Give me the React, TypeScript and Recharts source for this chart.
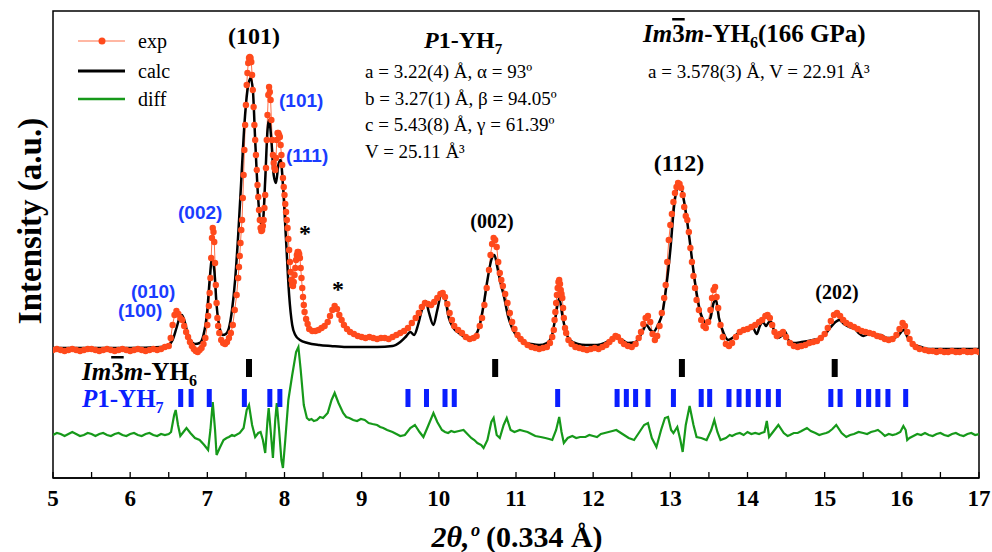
import React from "react";
import { ComposedChart, Line, Scatter, XAxis, YAxis, ReferenceArea } from "recharts";

// 2θ (deg) vs intensity (a.u.)
const expLeft: [number, number][] = [
  [5.0, 128], [5.05, 129], [5.1, 128], [5.15, 127], [5.2, 128], [5.25, 129], [5.3, 128], [5.35, 127],
  [5.4, 128], [5.45, 129], [5.5, 129], [5.55, 128], [5.6, 127], [5.65, 128], [5.7, 129], [5.75, 128],
  [5.8, 127], [5.85, 128], [5.9, 129], [5.95, 128], [6.0, 127], [6.05, 128], [6.1, 129], [6.15, 128],
  [6.2, 127], [6.25, 128], [6.3, 129], [6.35, 128], [6.4, 129], [6.45, 131],
];

const expLowAngle: [number, number][] = [
  [6.5, 132], [6.525, 140], [6.55, 153], [6.575, 163], [6.6, 167], [6.625, 164], [6.65, 160], [6.675, 158],
  [6.7, 152], [6.725, 146], [6.75, 141], [6.775, 136], [6.8, 132], [6.825, 129], [6.85, 127], [6.875, 126],
  [6.9, 128], [6.925, 130], [6.95, 134], [6.975, 140], [7.0, 153], [7.01, 162], [7.02, 172], [7.03, 185],
  [7.04, 200], [7.05, 220], [7.06, 240], [7.07, 250], [7.08, 246], [7.09, 236], [7.1, 215], [7.11, 193],
  [7.12, 175], [7.13, 160], [7.14, 152], [7.155, 145], [7.18, 138], [7.205, 135], [7.23, 134], [7.255, 136],
  [7.28, 140], [7.305, 145], [7.33, 153], [7.355, 168], [7.38, 183], [7.4, 200], [7.41, 211], [7.42, 222],
];

const expMain: [number, number][] = [
  [7.43, 235], [7.44, 248], [7.45, 258], [7.46, 280], [7.47, 303], [7.48, 328], [7.49, 353], [7.5, 373],
  [7.51, 393], [7.52, 405], [7.53, 415], [7.54, 420], [7.55, 421], [7.56, 420], [7.57, 416], [7.58, 403],
  [7.59, 388], [7.6, 371], [7.61, 353], [7.62, 338], [7.63, 323], [7.64, 308], [7.65, 293], [7.66, 281],
  [7.67, 268], [7.68, 258], [7.69, 250], [7.7, 247], [7.71, 248], [7.72, 252], [7.73, 258], [7.74, 270],
  [7.75, 283], [7.76, 310], [7.77, 338], [7.78, 363], [7.79, 383], [7.8, 391], [7.81, 386], [7.82, 378],
  [7.83, 358], [7.84, 338], [7.85, 323], [7.86, 315], [7.87, 310], [7.88, 308], [7.89, 320], [7.9, 338],
  [7.91, 345], [7.92, 345], [7.93, 343], [7.94, 341], [7.95, 333], [7.96, 323], [7.97, 313], [7.98, 300],
  [7.99, 291], [8.0, 283], [8.01, 274], [8.02, 266], [8.03, 258], [8.04, 250], [8.05, 239], [8.06, 228],
  [8.07, 216], [8.08, 206], [8.09, 198], [8.1, 193], [8.11, 192], [8.12, 196], [8.13, 203], [8.14, 210],
  [8.15, 218], [8.16, 223], [8.17, 226], [8.18, 226], [8.19, 224], [8.2, 220], [8.21, 210], [8.22, 200],
  [8.23, 190], [8.24, 181], [8.25, 173], [8.26, 166], [8.28, 159], [8.3, 154],
];

const expMid: [number, number][] = [
  [8.32, 149], [8.36, 147], [8.4, 147], [8.44, 148], [8.48, 150], [8.52, 152], [8.56, 156], [8.59, 162],
  [8.62, 168], [8.65, 172], [8.68, 169], [8.71, 163], [8.74, 158], [8.77, 153], [8.81, 149], [8.85, 146],
  [8.9, 144], [8.95, 142], [9.0, 141], [9.05, 140], [9.1, 141], [9.15, 140], [9.2, 139], [9.25, 140],
  [9.3, 140], [9.35, 139], [9.4, 141], [9.45, 143], [9.5, 145], [9.55, 147], [9.6, 150], [9.65, 155],
  [9.7, 160], [9.74, 165], [9.78, 171], [9.82, 175], [9.86, 174], [9.9, 173], [9.94, 176], [9.98, 180],
  [10.02, 184], [10.05, 185], [10.08, 181], [10.11, 174], [10.14, 165], [10.17, 158], [10.2, 152], [10.25, 148],
  [10.3, 145], [10.35, 141], [10.4, 139], [10.45, 140],
];

const expHigh: [number, number][] = [
  [10.49, 142], [10.53, 152], [10.56, 160], [10.59, 173], [10.62, 190], [10.65, 208], [10.67, 223], [10.69, 234],
  [10.71, 240], [10.73, 238], [10.75, 231], [10.77, 216], [10.79, 205], [10.81, 198], [10.83, 192], [10.86, 184],
  [10.89, 175], [10.92, 165], [10.95, 156], [10.98, 149], [11.02, 143], [11.06, 139], [11.1, 136], [11.15, 133],
  [11.2, 131], [11.25, 130], [11.3, 129], [11.35, 130], [11.4, 131], [11.44, 135], [11.47, 141], [11.49, 148],
  [11.5, 158], [11.51, 166], [11.52, 175], [11.53, 183], [11.54, 190], [11.55, 196], [11.56, 198], [11.57, 194],
  [11.58, 188], [11.59, 184], [11.6, 180], [11.61, 170], [11.62, 160], [11.635, 150], [11.65, 145], [11.68, 138],
  [11.72, 134], [11.77, 131], [11.82, 130], [11.87, 129], [11.92, 128], [11.97, 129], [12.02, 130], [12.07, 129],
  [12.12, 131], [12.17, 133], [12.21, 136], [12.25, 139], [12.29, 142], [12.32, 141], [12.36, 137], [12.4, 134],
  [12.45, 132], [12.5, 131],
];

const expYh6: [number, number][] = [
  [12.55, 134], [12.59, 140], [12.62, 146], [12.65, 154], [12.68, 160], [12.71, 162], [12.74, 156], [12.77, 144],
  [12.8, 138], [12.83, 142], [12.86, 152], [12.89, 165], [12.92, 180], [12.94, 193], [12.96, 216], [12.98, 238],
  [13.0, 253], [13.02, 264], [13.04, 276], [13.06, 285], [13.08, 291], [13.1, 295], [13.12, 294], [13.14, 290],
  [13.16, 283], [13.18, 271], [13.2, 262], [13.22, 258], [13.24, 246], [13.26, 230], [13.28, 216], [13.3, 202],
  [13.32, 190], [13.34, 178], [13.37, 168], [13.4, 158], [13.43, 152], [13.46, 150], [13.49, 156], [13.52, 168],
  [13.54, 180], [13.56, 188], [13.58, 191], [13.6, 181], [13.62, 170], [13.65, 153], [13.68, 141], [13.72, 134],
  [13.76, 132], [13.8, 135], [13.85, 141], [13.9, 146], [13.95, 148], [14.0, 149],
];

const expRight: [number, number][] = [
  [14.05, 151], [14.1, 153], [14.15, 156], [14.19, 158], [14.23, 162], [14.26, 163], [14.29, 160], [14.32, 153],
  [14.35, 146], [14.38, 142], [14.42, 144], [14.46, 146], [14.5, 141], [14.55, 135], [14.6, 132], [14.65, 131],
  [14.7, 132], [14.75, 133], [14.8, 135], [14.85, 136], [14.9, 137], [14.95, 140], [15.0, 144], [15.04, 150],
  [15.08, 157], [15.12, 163], [15.16, 165], [15.2, 162], [15.24, 158], [15.28, 155], [15.33, 153], [15.38, 151],
  [15.43, 149], [15.48, 147], [15.53, 146], [15.58, 145], [15.63, 144], [15.68, 142], [15.73, 141], [15.78, 139],
  [15.83, 138], [15.88, 139], [15.93, 143], [15.97, 149], [16.01, 155], [16.04, 152], [16.07, 146], [16.1, 139],
  [16.14, 134], [16.18, 131], [16.23, 129], [16.3, 128], [16.35, 127], [16.4, 127], [16.45, 126], [16.5, 127],
  [16.55, 126], [16.6, 126], [16.65, 127], [16.7, 126], [16.75, 126], [16.8, 127], [16.85, 126], [16.9, 126],
  [16.95, 127], [17.0, 126],
];

const calcPts: [number, number][] = [
  [5.0, 130], [6.0, 130], [6.4, 131], [6.5, 133], [6.55, 138], [6.6, 150], [6.64, 160], [6.67, 163],
  [6.7, 158], [6.74, 146], [6.78, 138], [6.84, 134], [6.9, 135], [6.95, 143], [7.0, 168], [7.03, 198],
  [7.06, 219], [7.09, 208], [7.12, 173], [7.16, 150], [7.2, 143], [7.24, 144], [7.28, 150], [7.32, 168],
  [7.36, 198], [7.4, 243], [7.44, 298], [7.48, 353], [7.52, 388], [7.56, 400], [7.59, 388], [7.62, 338],
  [7.66, 278], [7.7, 253], [7.72, 256], [7.75, 298], [7.78, 348], [7.8, 358], [7.83, 338], [7.86, 303],
  [7.89, 295], [7.92, 313], [7.95, 318], [7.98, 293], [8.02, 238], [8.06, 183], [8.1, 153], [8.14, 143],
  [8.2, 138], [8.3, 135], [8.45, 133], [8.6, 132], [8.8, 131], [9.0, 131], [9.2, 131], [9.4, 132],
  [9.5, 136], [9.58, 142], [9.63, 146], [9.68, 143], [9.73, 153], [9.78, 168], [9.83, 177], [9.87, 166],
  [9.93, 153], [9.98, 168], [10.04, 186], [10.08, 180], [10.13, 160], [10.19, 150], [10.26, 145], [10.33, 141],
  [10.4, 138], [10.47, 142], [10.53, 153], [10.58, 173], [10.63, 198], [10.68, 218], [10.72, 223], [10.76, 210],
  [10.8, 195], [10.84, 183], [10.9, 161], [10.95, 150], [11.02, 141], [11.1, 136], [11.2, 134], [11.3, 133],
  [11.4, 135], [11.46, 141], [11.51, 160], [11.56, 180], [11.6, 163], [11.65, 145], [11.7, 138], [11.8, 134],
  [11.9, 133], [12.05, 133], [12.15, 135], [12.22, 138], [12.3, 141], [12.36, 139], [12.45, 135], [12.55, 136],
  [12.63, 145], [12.69, 153], [12.74, 148], [12.78, 146], [12.84, 153], [12.9, 166], [12.95, 193], [13.0, 228],
  [13.05, 273], [13.09, 290], [13.13, 293], [13.17, 280], [13.21, 261], [13.25, 238], [13.29, 213], [13.34, 185],
  [13.4, 163], [13.47, 155], [13.52, 160], [13.56, 175], [13.59, 178], [13.63, 160], [13.69, 145], [13.75, 138],
  [13.82, 141], [13.9, 146], [14.0, 148], [14.07, 150], [14.12, 144], [14.16, 152], [14.2, 156], [14.24, 152],
  [14.28, 156], [14.31, 156], [14.35, 145], [14.39, 140], [14.44, 142], [14.49, 146], [14.53, 138], [14.6, 135],
  [14.7, 136], [14.85, 138], [14.95, 140], [15.02, 145], [15.08, 151], [15.14, 156], [15.19, 158], [15.25, 154],
  [15.32, 151], [15.38, 150], [15.44, 145], [15.5, 142], [15.58, 144], [15.66, 143], [15.73, 143], [15.8, 140],
  [15.9, 140], [15.96, 143], [16.02, 148], [16.08, 140], [16.15, 134], [16.25, 131], [16.35, 129], [16.6, 129],
  [17.0, 129],
];

const diffPts: [number, number][] = [
  [5.0, 43], [5.05, 45], [5.1, 44], [5.15, 42], [5.2, 44], [5.25, 46], [5.3, 44], [5.35, 42],
  [5.4, 43], [5.45, 45], [5.5, 44], [5.55, 42], [5.6, 44], [5.65, 45], [5.7, 43], [5.75, 42],
  [5.8, 44], [5.85, 45], [5.9, 43], [5.95, 42], [6.0, 44], [6.05, 45], [6.1, 43], [6.15, 42],
  [6.2, 44], [6.25, 45], [6.3, 43], [6.35, 42], [6.4, 44], [6.45, 43], [6.5, 44],
  [6.53, 46], [6.57, 63], [6.59, 68], [6.62, 53], [6.65, 42], [6.69, 46], [6.73, 50], [6.78, 45],
  [6.84, 40], [6.9, 38], [6.96, 33], [7.01, 28], [7.04, 48], [7.07, 76], [7.1, 48], [7.12, 23],
  [7.16, 30], [7.21, 38], [7.25, 40], [7.28, 41], [7.32, 43], [7.35, 42], [7.42, 45], [7.47, 50], [7.51, 68], [7.54, 73],
  [7.58, 53], [7.62, 41], [7.66, 45], [7.69, 46], [7.72, 38], [7.75, 25], [7.78, 58], [7.795, 70],
  [7.82, 48], [7.85, 20], [7.88, 58], [7.9, 75], [7.93, 48], [7.96, 18], [7.98, 10], [8.01, 38],
  [8.05, 78], [8.1, 103], [8.15, 126], [8.18, 131], [8.21, 108], [8.25, 73], [8.29, 60], [8.32, 58], [8.35, 59],
  [8.38, 57], [8.42, 58], [8.46, 61], [8.5, 60], [8.56, 65], [8.61, 78], [8.65, 85], [8.7, 75], [8.76, 65],
  [8.8, 61], [8.84, 60], [8.89, 58], [8.94, 57], [8.99, 59], [9.04, 58], [9.09, 55], [9.14, 54], [9.2, 53],
  [9.24, 51], [9.28, 50], [9.33, 48], [9.4, 46], [9.45, 44], [9.5, 42], [9.56, 43], [9.63, 50],
  [9.69, 53], [9.75, 46], [9.8, 41], [9.85, 50], [9.93, 65], [9.98, 56], [10.04, 48], [10.08, 46], [10.12, 45],
  [10.16, 47], [10.2, 46], [10.26, 47], [10.32, 48], [10.37, 44], [10.42, 40], [10.46, 38], [10.5, 35], [10.55, 33],
  [10.58, 30], [10.63, 38], [10.68, 56], [10.71, 60],
  [10.75, 43], [10.79, 40], [10.84, 53], [10.88, 60], [10.93, 48], [10.98, 46], [11.05, 48], [11.1, 47], [11.15, 46],
  [11.2, 44], [11.25, 42], [11.32, 41], [11.38, 40], [11.43, 39], [11.47, 38], [11.52, 48], [11.56, 61], [11.59, 46], [11.62, 35],
  [11.67, 40], [11.73, 42], [11.78, 40], [11.83, 41], [11.9, 41], [11.95, 43], [12.0, 42], [12.05, 41],
  [12.1, 44], [12.15, 45], [12.2, 46], [12.25, 47], [12.3, 48], [12.34, 46], [12.38, 44],
  [12.46, 40], [12.53, 38], [12.6, 46], [12.66, 53], [12.71, 55], [12.76, 40], [12.82, 31], [12.88, 48],
  [12.93, 60], [12.97, 61], [13.01, 48], [13.04, 45], [13.09, 51], [13.13, 38], [13.16, 26], [13.2, 53],
  [13.25, 72], [13.3, 53], [13.34, 41], [13.4, 40], [13.47, 38], [13.53, 48], [13.57, 58], [13.61, 46],
  [13.65, 38], [13.72, 40], [13.77, 43], [13.8, 42], [13.85, 44], [13.9, 45], [13.95, 43], [14.0, 46],
  [14.05, 44], [14.1, 45], [14.15, 44], [14.18, 45], [14.22, 46],
  [14.25, 57], [14.28, 41], [14.33, 46], [14.4, 53], [14.47, 45], [14.52, 42], [14.55, 43], [14.6, 45],
  [14.65, 45], [14.7, 47], [14.77, 50], [14.82, 47], [14.88, 45], [14.93, 43], [14.97, 44], [15.02, 45],
  [15.05, 46], [15.1, 49], [15.15, 53], [15.22, 45], [15.28, 41], [15.33, 43], [15.38, 44], [15.44, 46],
  [15.5, 45], [15.55, 44], [15.6, 46], [15.65, 47], [15.69, 48], [15.74, 45], [15.78, 42], [15.83, 44],
  [15.88, 43], [15.93, 44], [15.98, 46], [16.02, 52], [16.05, 48], [16.07, 38], [16.1, 40],
  [16.15, 42], [16.2, 44], [16.25, 43], [16.3, 45], [16.35, 43], [16.4, 42], [16.45, 44], [16.5, 45],
  [16.55, 43], [16.6, 42], [16.65, 44], [16.7, 45], [16.75, 43], [16.8, 42], [16.85, 44], [16.9, 45],
  [16.95, 43], [17.0, 44],
];

// Bragg reflection positions (2θ)
const im3mPeaks = [7.54, 10.73, 13.15, 15.13];
const p1Peaks = [
  6.655, 6.79, 7.025, 7.48, 7.81, 7.94, 9.6, 9.84, 10.08, 10.2, 11.54, 12.31, 12.43, 12.55, 12.71, 13.04,
  13.4, 13.51, 13.76, 13.89, 14.01, 14.14, 14.27, 14.4, 15.08, 15.2, 15.44, 15.57, 15.69, 15.82, 16.05,
];

const xTicks = [5, 5.5, 6, 6.5, 7, 7.5, 8, 8.5, 9, 9.5, 10, 10.5, 11, 11.5, 12, 12.5, 13, 13.5, 14, 14.5, 15, 15.5, 16, 16.5, 17];

const IM3M_ROW = 110;
const P1_ROW = 80;

const toRows = (pts: [number, number][]) => pts.map(([t, v]) => ({ t, v }));
const expData = toRows([...expLeft, ...expLowAngle, ...expMain, ...expMid, ...expHigh, ...expYh6, ...expRight]);
const calcData = toRows(calcPts);
const diffData = toRows(diffPts);
const im3mData = im3mPeaks.map((t) => ({ t, v: IM3M_ROW }));
const p1Data = p1Peaks.map((t) => ({ t, v: P1_ROW }));

const SERIF = "'Liberation Serif', 'Times New Roman', serif";
const SANS = "'Liberation Sans', Arial, sans-serif";
const EXP_DOT = "#ff4a1c";
const EXP_LINE = "#ff7048";
const GREEN = "#16991a";
const BLUE = "#0a1eff";

const XTick = (props: any) => {
  const { x, y, payload } = props;
  const v = payload.value;
  return (
    <g>
      <line x1={x} x2={x} y1={y} y2={y - 6} stroke="#000" strokeWidth={1.3} />
      {Number.isInteger(v) && (
        <text x={x} y={y + 28} textAnchor="middle" fontFamily={SERIF} fontWeight="bold" fontSize={23} fill="#000">
          {v}
        </text>
      )}
    </g>
  );
};

const blackTick = (props: any) => (
  <rect x={props.cx - 3} y={props.cy - 9} width={6} height={18} fill="#000" />
);
const blueTick = (props: any) => (
  <rect x={props.cx - 2.5} y={props.cy - 9} width={5} height={18} fill={BLUE} />
);

export default function App() {
  return (
    <div style={{ position: "absolute", left: 0, top: 0, width: 992, height: 552, background: "#fff" }}>
      <ComposedChart width={992} height={552} margin={{ top: 11, right: 13, left: 53, bottom: 0 }}>
        <XAxis
          dataKey="t"
          type="number"
          domain={[5, 17]}
          ticks={xTicks}
          interval={0}
          height={74}
          tickSize={0}
          tickMargin={0}
          tickLine={false}
          tick={<XTick />}
          axisLine={{ stroke: "#000", strokeWidth: 1.5 }}
          allowDataOverflow
        />
        <YAxis type="number" domain={[0, 467]} hide allowDataOverflow />
        <ReferenceArea x1={5} x2={17} y1={0} y2={467} fill="none" stroke="#000" strokeWidth={1.5} fillOpacity={0} />
        <Line
          data={diffData}
          dataKey="v"
          type="linear"
          stroke={GREEN}
          strokeWidth={2.2}
          dot={false}
          isAnimationActive={false}
        />
        <Line
          data={expData}
          dataKey="v"
          type="linear"
          stroke={EXP_LINE}
          strokeWidth={1}
          dot={{ r: 3.2, fill: EXP_DOT, stroke: "none" }}
          isAnimationActive={false}
        />
        <Line
          data={calcData}
          dataKey="v"
          type="monotone"
          stroke="#000"
          strokeWidth={2.5}
          dot={false}
          isAnimationActive={false}
        />
        <Scatter data={im3mData} dataKey="v" shape={blackTick} isAnimationActive={false} />
        <Scatter data={p1Data} dataKey="v" shape={blueTick} isAnimationActive={false} />
      </ComposedChart>

      <svg width={992} height={552} style={{ position: "absolute", left: 0, top: 0, pointerEvents: "none" }}>
        {/* legend */}
        <line x1={78} x2={125} y1={41} y2={41} stroke={EXP_LINE} strokeWidth={1.2} />
        <circle cx={102} cy={41} r={3.5} fill={EXP_DOT} />
        <text x={138} y={48} fontFamily={SERIF} fontSize={20}>exp</text>
        <line x1={78} x2={125} y1={71} y2={71} stroke="#000" strokeWidth={3} />
        <text x={138} y={78} fontFamily={SERIF} fontSize={20}>calc</text>
        <line x1={78} x2={125} y1={99} y2={99} stroke={GREEN} strokeWidth={2.5} />
        <text x={138} y={106} fontFamily={SERIF} fontSize={20}>diff</text>

        {/* axis titles */}
        <text transform="rotate(-90)" x={-221} y={41} textAnchor="middle" fontFamily={SERIF} fontWeight="bold" fontSize={33}>
          Intensity (a.u.)
        </text>
        <text x={517} y={547} textAnchor="middle" fontFamily={SERIF} fontWeight="bold" fontSize={30}>
          <tspan fontStyle="italic">2θ,º</tspan> (0.334 Å)
        </text>

        {/* phase info */}
        <text x={424} y={48} fontFamily={SERIF} fontWeight="bold" fontSize={24}>
          <tspan fontStyle="italic">P</tspan>1-YH<tspan dy={6} fontSize={15}>7</tspan>
        </text>
        <g fontFamily={SERIF} fontSize={19}>
          <text x={365} y={78}>a = 3.22(4) Å, α = 93º</text>
          <text x={365} y={105}>b = 3.27(1) Å, β = 94.05º</text>
          <text x={365} y={131}>c = 5.43(8) Å, γ = 61.39º</text>
          <text x={365} y={158}>V = 25.11 Å³</text>
          <text x={648} y={78}>a = 3.578(3) Å, V = 22.91 Å³</text>
        </g>
        <text x={643} y={42} fontFamily={SERIF} fontWeight="bold" fontSize={25}>
          <tspan fontStyle="italic">Im</tspan>
          <tspan style={{ textDecoration: "overline" }}>3</tspan>
          <tspan fontStyle="italic">m</tspan>-YH<tspan dy={6} fontSize={16}>6</tspan>
          <tspan dy={-6}>(166 GPa)</tspan>
        </text>

        {/* Im-3m reflections */}
        <g fontFamily={SERIF} fontWeight="bold" textAnchor="middle">
          <text x={254} y={44} fontSize={24}>(101)</text>
          <text x={492} y={228} fontSize={20}>(002)</text>
          <text x={679} y={171} fontSize={24}>(112)</text>
          <text x={837} y={299} fontSize={20}>(202)</text>
          <text x={305} y={241} fontSize={24}>*</text>
          <text x={338} y={297} fontSize={24}>*</text>
        </g>

        {/* P1 reflections */}
        <g fontFamily={SANS} fontWeight="bold" fontSize={19} fill="#1a3cff">
          <text x={279} y={107}>(101)</text>
          <text x={286} y={162}>(111)</text>
          <text x={178} y={219}>(002)</text>
          <text x={131} y={298}>(010)</text>
          <text x={118} y={317}>(100)</text>
        </g>

        {/* tick row labels */}
        <text x={82} y={380} fontFamily={SERIF} fontWeight="bold" fontSize={25}>
          <tspan fontStyle="italic">Im</tspan>
          <tspan style={{ textDecoration: "overline" }}>3</tspan>
          <tspan fontStyle="italic">m</tspan>-YH<tspan dy={6} fontSize={16}>6</tspan>
        </text>
        <text x={82} y={407} fontFamily={SERIF} fontWeight="bold" fontSize={25} fill={BLUE}>
          <tspan fontStyle="italic">P</tspan>1-YH<tspan dy={6} fontSize={16}>7</tspan>
        </text>
      </svg>
    </div>
  );
}
